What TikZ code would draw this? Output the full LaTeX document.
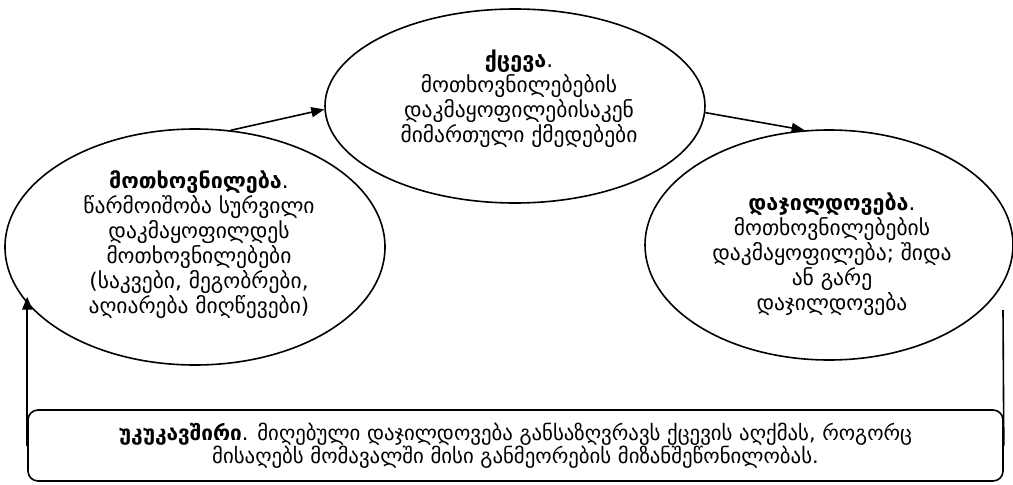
\documentclass[tikz,border=0pt]{standalone}
\usepackage{fontspec}
\setmainfont{DejaVu Sans}
\usetikzlibrary{shapes.geometric,arrows.meta}
\begin{document}
\begin{tikzpicture}[x=1pt,y=-1pt,
  oval/.style={ellipse,draw,line width=1.6pt,inner sep=0pt},
  otext/.style={align=center,inner sep=0pt,font=\fontsize{21.5}{25}\selectfont},
  fbox/.style={rectangle,rounded corners=10pt,draw,line width=1.6pt,inner sep=0pt,
    align=center,font=\fontsize{20.8}{23}\selectfont},
  arr/.style={line width=1.6pt,-{Triangle[length=13pt,width=10pt]}},
  ln/.style={line width=1.6pt}]
\useasboundingbox (0,0) rectangle (1013,485);
\fill[white] (0,0) rectangle (1013,485);
\node[oval,minimum width=380pt,minimum height=236pt] (L) at (195,247) {};
\node[oval,minimum width=380pt,minimum height=194pt] (T) at (515,106) {};
\node[oval,minimum width=368pt,minimum height=230pt] (R) at (829,245) {};
\node[otext] (Lt) at (199,245)
  {\textbf{მოთხოვნილება}.\\წარმოიშობა სურვილი\\დაკმაყოფილდეს\\მოთხოვნილებები\\(საკვები, მეგობრები,\\აღიარება მიღწევები)};
\node[otext] (Tt) at (519,99)
  {\textbf{ქცევა}.\\მოთხოვნილებების\\დაკმაყოფილებისაკენ\\მიმართული ქმედებები};
\node[otext] (Rt) at (832,254)
  {\textbf{დაჯილდოვება}.\\მოთხოვნილებების\\დაკმაყოფილება; შიდა\\ან გარე\\დაჯილდოვება};
\node[fbox,minimum width=975pt,minimum height=71pt] (B) at (515.5,445.5)
  {\textbf{უკუკავშირი}. მიღებული დაჯილდოვება განსაზღვრავს ქცევის აღქმას, როგორც\\მისაღებს მომავალში მისი განმეორების მიზანშეწონილობას.};
\coordinate (rt) at (1003,310);
\draw[arr] (L.73) -- (T.181);
\draw[arr] (T.358.5) -- (R.102);
\draw[arr] (B.west) -- (B.west |- L.196);
\draw[ln] (rt) -- (B.east);
\end{tikzpicture}
\end{document}
